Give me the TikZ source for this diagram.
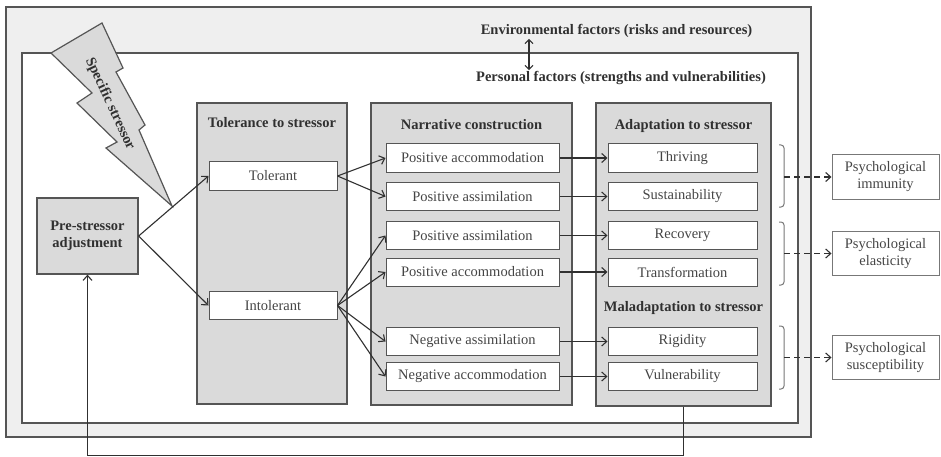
\documentclass[tikz,border=0pt]{standalone}
\usepackage{fontspec}
\setmainfont{Liberation Serif}
\usetikzlibrary{arrows.meta}
\definecolor{edge}{HTML}{555555}
\definecolor{envfill}{HTML}{EFEFEF}
\definecolor{colfill}{HTML}{DADADA}
\definecolor{ink}{HTML}{303030}
\definecolor{softink}{HTML}{454545}
\begin{document}
\begin{tikzpicture}[x=1pt,y=-1pt,
  font=\fontsize{14.5}{17}\selectfont,
  barb/.style={-{Straight Barb[length=5pt,width=9pt]}},
  link/.style={barb, draw=ink, line width=1.1pt},
  frame/.style={draw=edge, line width=1.3pt, inner sep=0pt},
  column/.style={draw=edge, line width=1.3pt, fill=colfill, inner sep=0pt},
  cell/.style={draw=edge, line width=1pt, fill=white, inner sep=0pt,
    minimum height=28pt, text=softink},
  narcell/.style={cell, minimum width=173pt},
  adacell/.style={cell, minimum width=149pt},
  outcome/.style={draw=edge!80, line width=1pt, fill=white, inner sep=0pt,
    minimum width=107pt, minimum height=44pt, align=center, text=softink},
  head/.style={font=\fontsize{14.5}{17}\selectfont\bfseries, text=ink, inner sep=1pt},
  brace/.style={draw=edge!80, line width=1pt, rounded corners=3pt},
]
\useasboundingbox (0,0) rectangle (941,457);
\fill[white] (0,0) rectangle (941,457);

% nested context frames
\node[frame, fill=envfill, minimum width=805pt, minimum height=430pt] (env) at (408.5,222) {};
\node[frame, fill=white, minimum width=776pt, minimum height=370pt] (pers) at (410,238) {};

% lightning bolt for the stressor
\filldraw[fill=colfill, draw=edge, line width=1.2pt, line join=miter]
  (51,53) -- (102,23) -- (123,68) -- (116,72) -- (145,125) -- (139,130)
  -- (172,206) -- (106,148) -- (117,142) -- (77,103) -- (92,93) -- cycle;
\node[head, rotate=-65] (stressor) at (110,104) {Specific stressor};

% context labels
\node[head] (envlab) at (616.5,31) {Environmental factors (risks and resources)};
\node[head] (perslab) at (621,78) {Personal factors (strengths and vulnerabilities)};
\coordinate (mid) at (529,0);
\draw[{Straight Barb[length=4pt,width=8pt]}-{Straight Barb[length=4pt,width=8pt]}, draw=ink, line width=1.1pt]
  (envlab.south -| mid) -- (perslab.north -| mid);

% starting state
\node[column, minimum width=101pt, minimum height=76pt, align=center,
  font=\fontsize{14.5}{17}\selectfont\bfseries, text=ink] (pre) at (87.5,236)
  {Pre-stressor\\adjustment};

% stage columns
\node[column, minimum width=150pt, minimum height=301pt] (tol) at (272,253.5) {};
\node[column, minimum width=201pt, minimum height=302pt] (nar) at (471.5,254) {};
\node[column, minimum width=175pt, minimum height=303pt] (ada) at (683.5,254.5) {};

\node[head] (toltitle) at (272,123) {Tolerance to stressor};
\node[head] (nartitle) at (471.5,125) {Narrative construction};
\node[head] (adatitle) at (683.5,126) {Adaptation to stressor};
\node[head] (maltitle) at (683.5,308) {Maladaptation to stressor};

% tolerance cells
\node[cell, minimum width=128pt] (tolerant) at (273,176) {Tolerant};
\node[cell, minimum width=128pt] (intolerant) at (273,305.5) {Intolerant};

% narrative cells
\node[narcell] (n1) at (472.5,158) {Positive accommodation};
\node[narcell] (n2) at (472.5,196.5) {Positive assimilation};
\node[narcell] (n3) at (472.5,235.5) {Positive assimilation};
\node[narcell] (n4) at (472.5,272) {Positive accommodation};
\node[narcell] (n5) at (472.5,341.5) {Negative assimilation};
\node[narcell] (n6) at (472.5,376.5) {Negative accommodation};

% adaptation cells
\node[adacell] (a1) at (682.5,158) {Thriving};
\node[adacell] (a2) at (682.5,196.5) {Sustainability};
\node[adacell] (a3) at (682.5,235.5) {Recovery};
\node[adacell] (a4) at (682.5,272) {Transformation};
\node[adacell] (a5) at (682.5,341.5) {Rigidity};
\node[adacell] (a6) at (682.5,376.5) {Vulnerability};

% outcomes
\node[outcome] (imm) at (885.5,177) {Psychological\\immunity};
\node[outcome] (ela) at (885.5,253.5) {Psychological\\elasticity};
\node[outcome] (sus) at (885.5,357.5) {Psychological\\susceptibility};

% flow arrows
\draw[link] (pre.east) -- (tolerant.west);
\draw[link] (pre.east) -- (intolerant.west);
\draw[link] (tolerant.east) -- (n1.west);
\draw[link] (tolerant.east) -- (n2.west);
\foreach \n in {n3,n4,n5,n6}
  \draw[link] (intolerant.east) -- (\n.west);
\foreach \i in {1,...,6}
  \draw[link] (n\i.east) -- (a\i.west);

% feedback loop
\draw[link] (ada.south) -- ++(0,49) -| (pre.south);

% brackets grouping outcomes
\coordinate (b1) at (784,177);
\coordinate (b2) at (784,253.5);
\coordinate (b3) at (784,357.5);
\draw[brace] (779,145) -- (784,145) -- (784,207) -- (779,207);
\draw[brace] (779,222) -- (784,222) -- (784,285) -- (779,285);
\draw[brace] (779,326) -- (784,326) -- (784,389) -- (779,389);
\draw[link, dashed, dash pattern=on 6pt off 4pt] (b1) -- (imm.west);
\draw[link, dashed, dash pattern=on 6pt off 4pt] (b2) -- (ela.west);
\draw[link, dashed, dash pattern=on 6pt off 4pt] (b3) -- (sus.west);
\end{tikzpicture}
\end{document}
